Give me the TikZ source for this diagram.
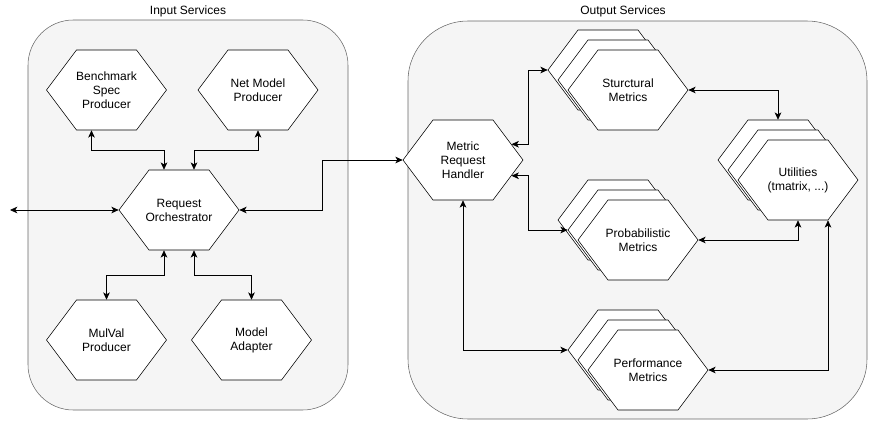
\documentclass[tikz,border=0pt]{standalone}
\usepackage{fontspec}
\setmainfont{Liberation Sans}
\usepackage{tikz}
\usetikzlibrary{
    arrows.meta,
    calc,
    shapes.symbols
}

\begin{document}
\begin{tikzpicture}[<->,>={Stealth[length=5.5pt,width=5pt,inset=1.5pt]},x=0.75pt,y=-0.75pt,semithick,font=\fontsize{9}{10.5}\selectfont]
    \tikzstyle{hexa}=[shape=signal, signal to=west and east, signal pointer angle=106.26, draw, thin, fill=white, minimum width=90pt, minimum height=60pt, inner xsep=-30pt, inner ysep=0pt, align=center]
    \tikzstyle{group}=[draw=black!60, fill=black!4, thin]
    \useasboundingbox (0, 0) rectangle (869, 421);
    % service groups
    \draw[group, -, rounded corners=34pt] (28, 20) rectangle (348, 410);
    \draw[group, -, rounded corners=45pt] (408, 21) rectangle (867, 419);
    \node (inlbl) at (188, 11) {Input Services};
    \node (outlbl) at (623, 11) {Output Services};
    % input side
    \node[hexa] (bsp) at (106.5, 90) {Benchmark\\Spec\\Producer};
    \node[hexa] (nmp) at (258, 90) {Net Model\\Producer};
    \node[hexa] (ro) at (179, 210) {Request\\Orchestrator};
    \node[hexa] (mvp) at (106.5, 340) {MulVal\\Producer};
    \node[hexa] (ma) at (251.5, 340) {Model\\Adapter};
    % output side
    \node[hexa] (mrh) at (463, 160) {Metric\\Request\\Handler};
    \node[hexa] (smb) at (608, 70) {};
    \node[hexa] (smm) at (618, 80) {};
    \node[hexa] (smf) at (628, 90) {Sturctural\\Metrics};
    \node[hexa] (pmb) at (618, 220) {};
    \node[hexa] (pmm) at (628, 230) {};
    \node[hexa] (pmf) at (638, 240) {Probabilistic\\Metrics};
    \node[hexa] (utb) at (778, 160) {};
    \node[hexa] (utm) at (788, 170) {};
    \node[hexa] (utf) at (798, 180) {Utilities\\(tmatrix, ...)};
    \node[hexa] (pfb) at (628, 350) {};
    \node[hexa] (pfm) at (638, 360) {};
    \node[hexa] (pff) at (648, 370) {Performance\\Metrics};
    \coordinate (ext) at (10, 210);
    % links
    \draw ($(bsp.south)+(-15,0)$) -- ++(0,20) -| ($(ro.north)+(-15,0)$);
    \draw (nmp.south) -- ++(0,20) -| ($(ro.north)+(15,0)$);
    \draw ($(ro.south)+(-15,0)$) -- ++(0,25) -| (mvp.north);
    \draw ($(ro.south)+(15,0)$) -- ++(0,25) -| (ma.north);
    \draw (ext) -- (ro.west);
    \draw (ro.east) -- ++(83,0) |- (mrh.west);
    \draw (mrh.18.43) -- ++(17,0) |- (smb.west);
    \draw (mrh.-18.43) -- ++(17,0) |- (pmm.west);
    \draw (mrh.south) |- (pfb.west);
    \draw (smf.east) -| (utb.north);
    \draw (pmf.east) -| (utf.south);
    \draw (pff.east) -| ($(utf.south)+(30,0)$);
\end{tikzpicture}
\end{document}
